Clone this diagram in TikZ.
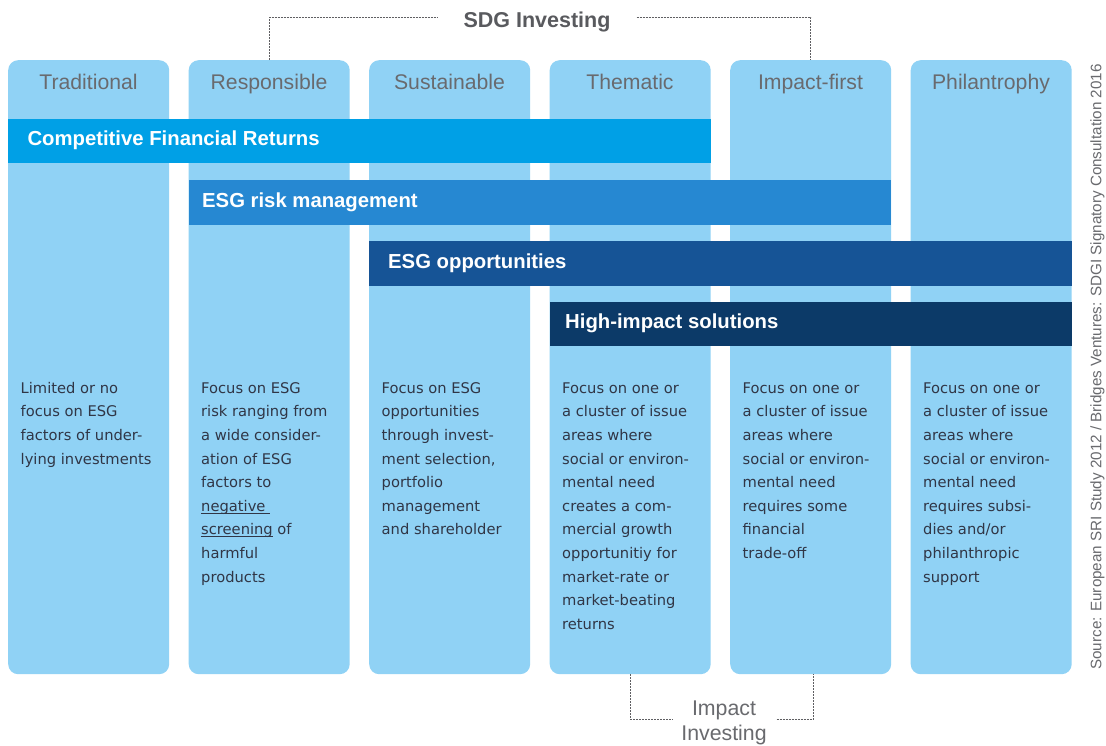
\documentclass[tikz,border=0pt]{standalone}
\usepackage{fontspec}
\setmainfont{Liberation Sans}
\newfontfamily\dejavu{DejaVu Sans}
\definecolor{colbg}{RGB}{144,210,245}
\definecolor{barA}{RGB}{0,160,230}
\definecolor{barB}{RGB}{38,136,210}
\definecolor{barC}{RGB}{22,84,150}
\definecolor{barD}{RGB}{12,58,104}
\definecolor{headgray}{RGB}{105,106,110}
\definecolor{bodytext}{RGB}{48,54,70}
\definecolor{brgray}{RGB}{95,95,98}
\newcommand\myul[1]{\setbox0\hbox{#1}\rlap{\rule[-2.4pt]{\wd0}{0.9pt}}\box0\relax}
\begin{document}
\begin{tikzpicture}[x=1pt,y=-1pt,
  colbox/.style={fill=colbg, rounded corners=10pt, minimum width=161pt, minimum height=614pt, anchor=north west, inner sep=0pt},
  head/.style={anchor=base, text=headgray, font=\fontsize{21.2}{25}\selectfont, inner sep=0pt},
  barbox/.style={anchor=north west, inner sep=0pt, minimum height=44.8pt},
  barlabel/.style={anchor=base west, text=white, font=\bfseries\fontsize{20.3}{24}\selectfont, inner sep=0pt},
  body/.style={anchor=north west, align=left, text=bodytext, inner sep=0pt, font=\dejavu\fontsize{14.7}{23.6}\selectfont},
  bracket/.style={draw=brgray, line width=1.1pt, dash pattern=on 2pt off 1pt}
]
\useasboundingbox (0,0) rectangle (1106,745);
\fill[white] (0,0) rectangle (1106,745);

% columns
\node[colbox] (c1) at (8,60) {};
\node[colbox] (c2) at (188.5,60) {};
\node[colbox] (c3) at (369,60) {};
\node[colbox] (c4) at (549.5,60) {};
\node[colbox] (c5) at (730,60) {};
\node[colbox] (c6) at (910.5,60) {};

% headers
\node[head] (h1) at (88.5,89.5) {Traditional};
\node[head] (h2) at (269,89.5) {Responsible};
\node[head] (h3) at (449.5,89.5) {Sustainable};
\node[head] (h4) at (630,89.5) {Thematic};
\node[head] (h5) at (810.5,89.5) {Impact-first};
\node[head] (h6) at (991,89.5) {Philantrophy};

% bars
\node[barbox, fill=barA, minimum width=702.5pt] (bA) at (8,118.4) {};
\node[barbox, fill=barB, minimum width=702.5pt] (bB) at (188.5,179.8) {};
\node[barbox, fill=barC, minimum width=702.5pt] (bC) at (369,240.6) {};
\node[barbox, fill=barD, minimum width=522pt] (bD) at (549.5,301.4) {};

\node[barlabel] (lA) at (27.3,145.8) {Competitive Financial Returns};
\node[barlabel] (lB) at (202,207.2) {ESG risk management};
\node[barlabel] (lC) at (388,268) {ESG opportunities};
\node[barlabel] (lD) at (565,328.8) {High-impact solutions};

% body texts
\node[body] (t1) at (20.5,381) {\rule{0pt}{12pt}Limited or no\\focus on ESG\\factors of under-\\lying investments};
\node[body] (t2) at (201,381) {\rule{0pt}{12pt}Focus on ESG\\risk ranging from\\a wide consider-\\ation of ESG\\factors to\\\myul{negative\ }\\\myul{screening} of\\harmful\\products};
\node[body] (t3) at (381.5,381) {\rule{0pt}{12pt}Focus on ESG\\opportunities\\through invest-\\ment selection,\\portfolio\\management\\and shareholder};
\node[body] (t4) at (562,381) {\rule{0pt}{12pt}Focus on one or\\a cluster of issue\\areas where\\social or environ-\\mental need\\creates a com-\\mercial growth\\opportunitiy for\\market-rate or\\market-beating\\returns};
\node[body] (t5) at (742.5,381) {\rule{0pt}{12pt}Focus on one or\\a cluster of issue\\areas where\\social or environ-\\mental need\\requires some\\financial\\trade-off};
\node[body] (t6) at (923,381) {\rule{0pt}{12pt}Focus on one or\\a cluster of issue\\areas where\\social or environ-\\mental need\\requires subsi-\\dies and/or\\philanthropic\\support};

% SDG investing bracket
\node[anchor=base, text=headgray!85!black, font=\bfseries\fontsize{21.5}{25}\selectfont, inner xsep=26pt, inner ysep=0pt] (sdg) at (537,27.5) {SDG Investing};
\draw[bracket] (c2.north) |- ([yshift=4.5pt]sdg.west);
\draw[bracket] ([yshift=4.5pt]sdg.east) -| (c5.north);

% Impact investing bracket
\node[anchor=north, align=center, text=headgray, font=\fontsize{21.3}{25}\selectfont, inner sep=0pt] (imp) at (724,699) {\rule{0pt}{16pt}Impact\\Investing};
\coordinate (impL) at (673,719.3);
\coordinate (impR) at (776.7,719.3);
\draw[bracket] (c4.south) |- (impL);
\draw[bracket] (impR) -| ([xshift=2.5pt]c5.south);

% source
\node[rotate=90, text=headgray, font=\fontsize{15.2}{18}\selectfont, inner sep=0pt] (src) at (1097.5,367) {Source: European SRI Study 2012 / Bridges Ventures: SDGI Signatory Consultation 2016};
\end{tikzpicture}
\end{document}
